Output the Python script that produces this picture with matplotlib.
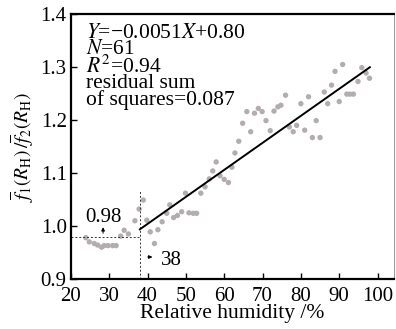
import matplotlib.pyplot as plt

plt.rcParams['font.family'] = ['Liberation Serif', 'DejaVu Serif']
plt.rcParams['mathtext.fontset'] = 'stix'

# 相対湿度 (%) と比 f1/f2 の観測点
rh = [23.9, 24.8, 26.1, 27.0, 28.0, 28.7, 29.7, 30.9, 31.8, 33.0, 33.9, 35.0,
      36.7, 37.8, 38.9, 39.8, 40.7, 41.8, 42.7, 43.8, 45.0, 45.8, 46.8, 47.8,
      48.9, 49.9, 50.8, 51.9, 52.8, 53.9, 55.0, 56.1, 57.0, 57.9, 58.9, 60.0,
      61.1, 62.0, 62.8, 63.8, 64.8, 65.9, 66.9, 67.9, 68.9, 69.9, 70.9, 72.0,
      73.0, 74.0, 74.8, 76.0, 77.0, 78.0, 78.9, 80.0, 81.0, 82.0, 83.0, 84.0,
      85.0, 86.1, 87.0, 88.0, 88.9, 90.0, 90.9, 92.0, 92.8, 93.7, 94.9, 95.9,
      97.0, 97.9]
ratio = [0.978, 0.970, 0.967, 0.964, 0.960, 0.963, 0.963, 0.963, 0.963, 0.981,
         0.992, 0.985, 1.010, 1.032, 1.049, 1.011, 0.989, 0.967, 0.993, 1.008,
         1.024, 1.040, 1.016, 1.020, 1.027, 1.062, 1.025, 1.024, 1.024, 1.062,
         1.074, 1.089, 1.104, 1.121, 1.095, 1.088, 1.082, 1.111, 1.138, 1.160,
         1.194, 1.216, 1.178, 1.213, 1.222, 1.216, 1.199, 1.180, 1.217, 1.225,
         1.228, 1.247, 1.187, 1.178, 1.190, 1.231, 1.181, 1.244, 1.167, 1.199,
         1.167, 1.253, 1.231, 1.266, 1.292, 1.235, 1.305, 1.249, 1.249, 1.249,
         1.273, 1.299, 1.289, 1.279]

# 回帰直線 (38% 以上)
slope = 0.0051
intercept = 0.80
fit_x = [38, 98]
fit_y = [slope * x + intercept for x in fit_x]

# しきい値
x_th = 38
y_th = 0.98

fig = plt.figure(figsize=(3.96, 3.29), dpi=100)
ax = fig.add_axes([0.179, 0.152, 0.816, 0.805])

ax.scatter(rh, ratio, s=15, color='#b3adad', edgecolors='none', zorder=2)
ax.plot(fit_x, fit_y, color='black', lw=1.4, zorder=3)

# 破線
ax.plot([x_th, x_th], [0.9, 1.068], color='#333333', lw=0.7, ls=(0, (2, 2)))
ax.plot([20, x_th], [y_th, y_th], color='#333333', lw=0.7, ls=(0, (2, 2)))

ax.annotate('', xy=(28.4, 1.003), xytext=(28.4, 0.981),
            arrowprops=dict(arrowstyle='-|>', lw=0.7, color='black',
                            mutation_scale=5))
ax.text(28.6, 1.0075, '0.98', fontsize=15, ha='center', va='baseline')
ax.annotate('', xy=(42.0, 0.9415), xytext=(39.3, 0.9415),
            arrowprops=dict(arrowstyle='-|>', lw=0.7, color='black',
                            mutation_scale=5))
ax.text(43.6, 0.927, '38', fontsize=15, ha='left', va='baseline')

# 回帰式などの注記 (ひとつのテキストにまとめて行間を詰める)
note = '\n'.join([r'$Y$=−0.0051$X$+0.80', r'$N$=61', r'$R^{2}$=0.94',
                  'residual sum', 'of squares=0.087'])
ax.text(23.9, 1.381, note, fontsize=15.5, ha='left', va='top',
        linespacing=0.78)

ax.set_xlim(20, 104.3)
ax.set_ylim(0.9, 1.4)
ax.set_xticks([20, 30, 40, 50, 60, 70, 80, 90, 100])
ax.set_yticks([0.9, 1.0, 1.1, 1.2, 1.3, 1.4])
ax.set_yticklabels(['0.9', '1.0', '1.1', '1.2', '1.3', '1.4'])
ax.tick_params(direction='in', length=4, width=1, labelsize=15)
ax.tick_params(axis='x', pad=5.5)
ax.tick_params(axis='y', pad=3)

ax.spines['left'].set_linewidth(1.6)
ax.spines['bottom'].set_linewidth(1.6)
ax.spines['top'].set_linewidth(1.6)
ax.spines['right'].set_linewidth(0.6)
ax.spines['right'].set_color('#888888')

ax.set_xlabel('Relative humidity /%', fontsize=15.5, labelpad=-1)
ax.set_ylabel(r'$\overline{f}_1(R_\mathrm{H})\,/\overline{f}_2(R_\mathrm{H})$',
              fontsize=14, labelpad=3)

fig.savefig('out.png', dpi=100)
